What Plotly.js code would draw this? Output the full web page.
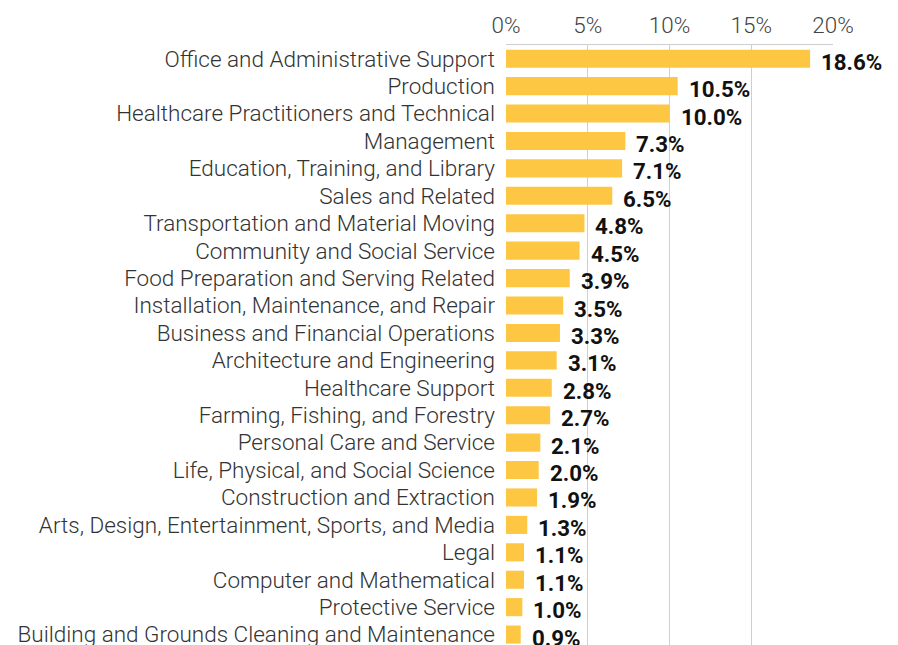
<!DOCTYPE html>
<html>
<head>
<meta charset="utf-8">
<script src="https://cdn.plot.ly/plotly-3.0.1.min.js"></script>
<style>html,body{margin:0;padding:0;background:#fff;}#chart{width:898px;height:645px;}</style>
</head>
<body>
<div id="chart"></div>
<script>
const categories = [
  "Office and Administrative Support",
  "Production",
  "Healthcare Practitioners and Technical",
  "Management",
  "Education, Training, and Library",
  "Sales and Related",
  "Transportation and Material Moving",
  "Community and Social Service",
  "Food Preparation and Serving Related",
  "Installation, Maintenance, and Repair",
  "Business and Financial Operations",
  "Architecture and Engineering",
  "Healthcare Support",
  "Farming, Fishing, and Forestry",
  "Personal Care and Service",
  "Life, Physical, and Social Science",
  "Construction and Extraction",
  "Arts, Design, Entertainment, Sports, and Media",
  "Legal",
  "Computer and Mathematical",
  "Protective Service",
  "Building and Grounds Cleaning and Maintenance"
];
const shares = [18.6, 10.5, 10.0, 7.3, 7.1, 6.5, 4.8, 4.5, 3.9, 3.5, 3.3, 3.1, 2.8, 2.7, 2.1, 2.0, 1.9, 1.3, 1.1, 1.1, 1.0, 0.9];
const tickVals = [0, 5, 10, 15, 20];
const tickText = ["0%", "5%", "10%", "15%", "20%"];

const barTrace = {
  type: "bar",
  orientation: "h",
  x: shares,
  y: categories,
  marker: {color: "#FDC743"},
  hoverinfo: "skip"
};

const annotations = categories.map((c, i) => ({
  x: shares[i], y: c, xref: "x", yref: "y",
  text: shares[i].toFixed(1) + "%",
  showarrow: false, xanchor: "left", yanchor: "middle",
  xshift: 9, yshift: -3,
  font: {family: "Roboto", size: 22.3, color: "#111", weight: 700}
}));

const layout = {
  width: 898, height: 645,
  margin: {l: 506, r: 65, t: 45, b: 0},
  paper_bgcolor: "#fff", plot_bgcolor: "#fff",
  showlegend: false,
  bargap: 0.34,
  font: {family: "Roboto", color: "#333"},
  xaxis: {
    side: "top", range: [0, 20],
    tickvals: tickVals, ticktext: tickText,
    showgrid: true, gridcolor: "#cfcfcf", gridwidth: 1,
    zeroline: false, showline: true, linecolor: "#cfcfcf", linewidth: 1,
    ticks: "", ticklabelstandoff: 2,
    tickfont: {family: "Roboto", size: 22.4, color: "#444", weight: 300},
    fixedrange: true
  },
  yaxis: {
    type: "category",
    range: [21.38, -0.5],
    showgrid: false, zeroline: false, showline: false,
    ticks: "", ticklabelstandoff: 10,
    tickfont: {family: "Roboto", size: 22.5, color: "#333", weight: 300},
    fixedrange: true
  },
  annotations: annotations
};

Plotly.newPlot("chart", [barTrace], layout, {displayModeBar: false, staticPlot: true});
</script>
</body>
</html>
